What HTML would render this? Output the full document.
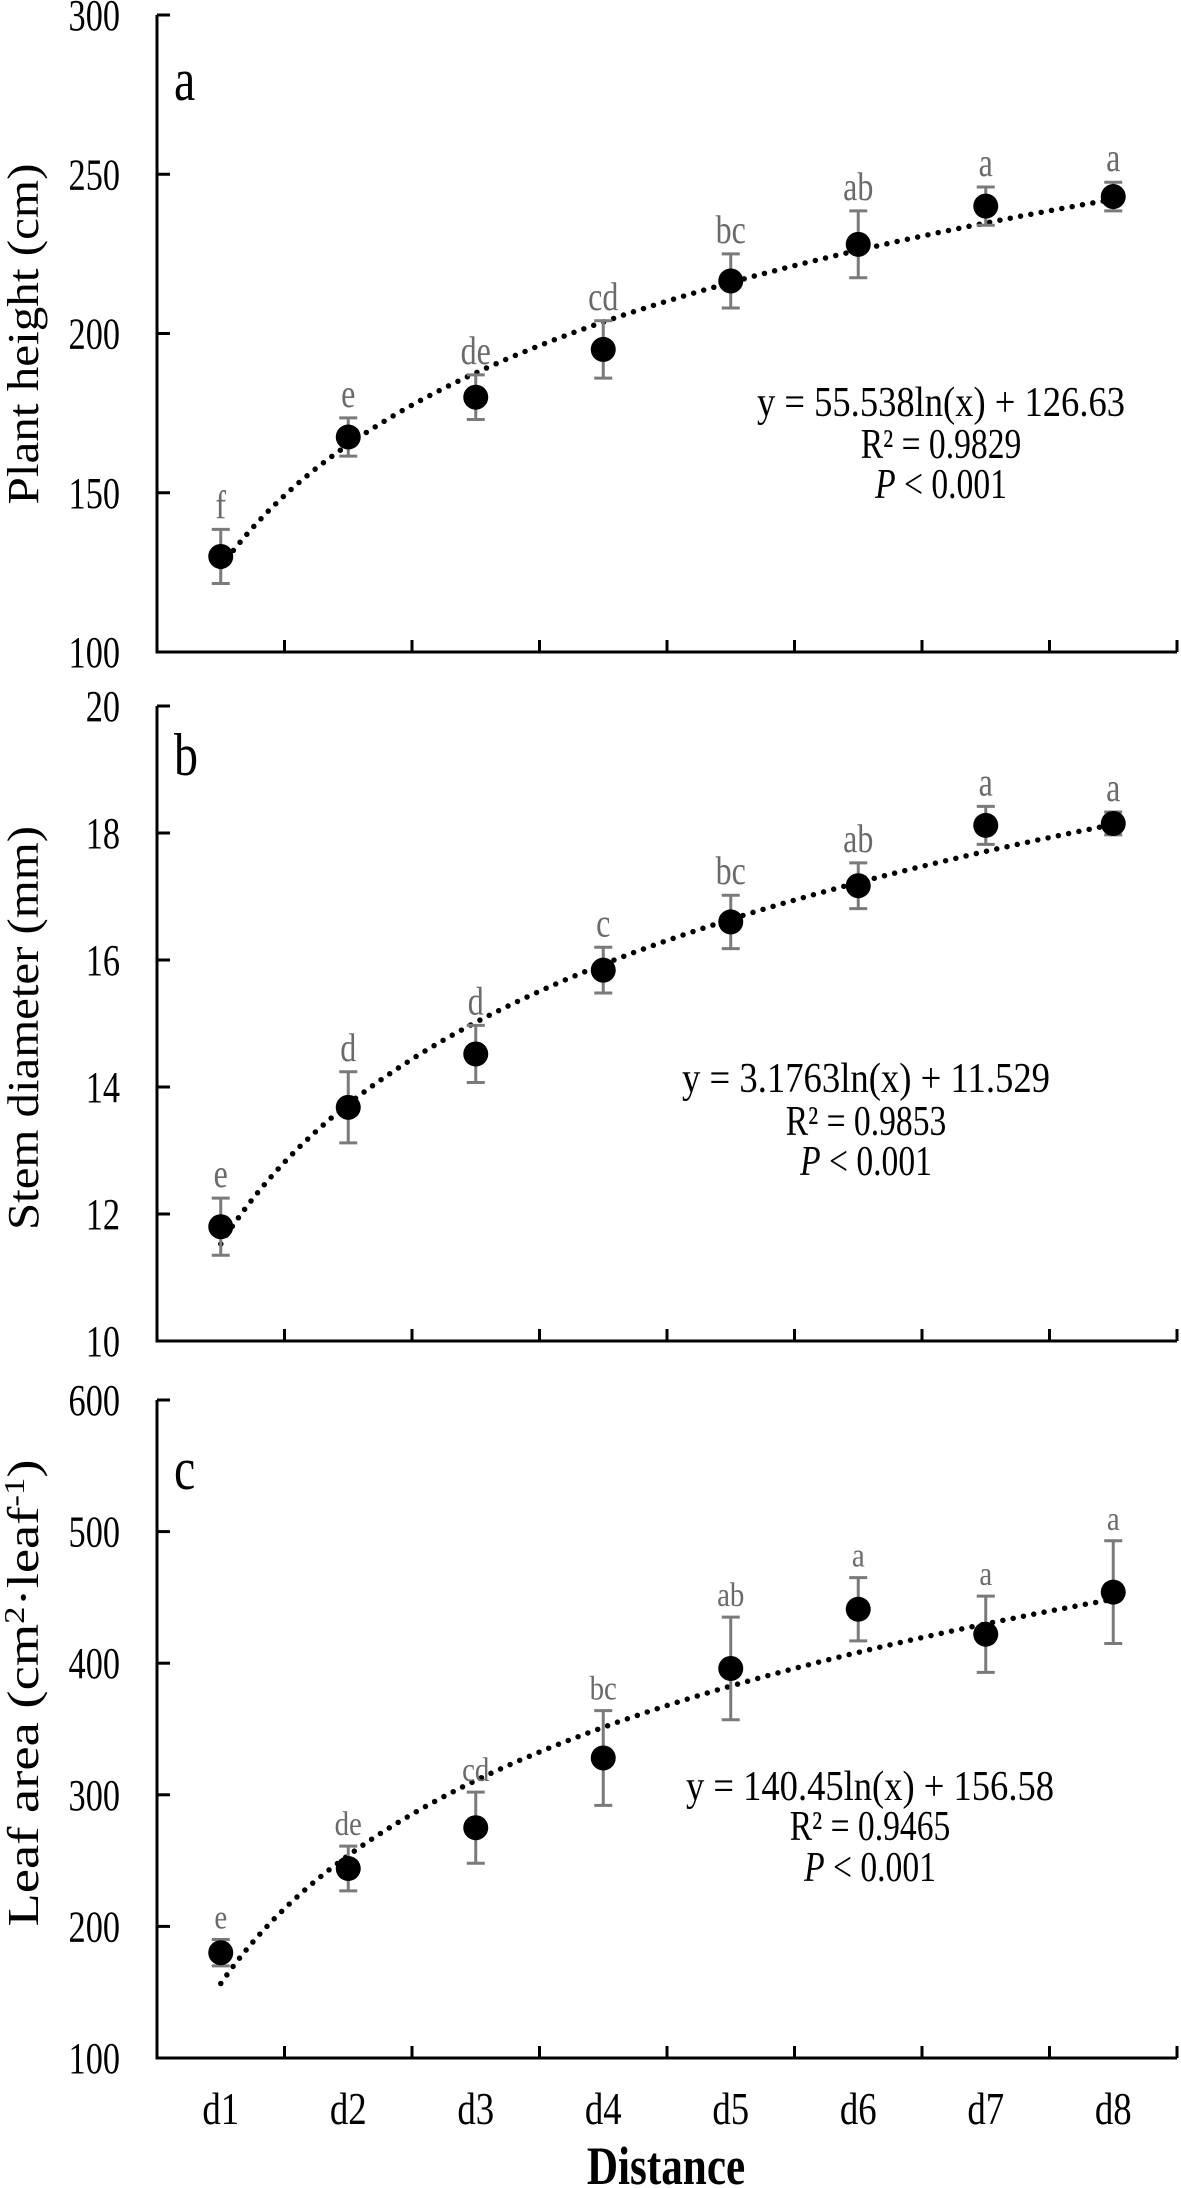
<!DOCTYPE html>
<html><head><meta charset="utf-8"><style>
body{margin:0;background:#fff}
svg{display:block}
text{font-family:"Liberation Serif",serif}
</style></head><body>
<svg id="chart" width="1181" height="2188" viewBox="0 0 1181 2188"></svg>
<script>
const categories=["d1","d2","d3","d4","d5","d6","d7","d8"];
const heightVals=[130,167.5,180,195,216.5,228,240,243];
const heightErr=[8.5,6,7,9,8.5,10.5,6,4.5];
const heightLetters=["f","e","de","cd","bc","ab","a","a"];
const heightTicks=[100,150,200,250,300];
const heightFit=[55.538,126.63];
const stemVals=[11.8,13.68,14.52,15.84,16.6,17.17,18.12,18.15];
const stemErr=[0.45,0.56,0.45,0.36,0.42,0.36,0.3,0.18];
const stemLetters=["e","d","d","c","bc","ab","a","a"];
const stemTicks=[10,12,14,16,18,20];
const stemFit=[3.1763,11.529];
const leafVals=[180,244,275,328,396,441,422,454];
const leafErr=[10,17,27,36,39,24,29,39];
const leafLetters=["e","de","cd","bc","ab","a","a","a"];
const leafTicks=[100,200,300,400,500,600];
const leafFit=[140.45,156.58];

const NS="http://www.w3.org/2000/svg";
const svg=document.getElementById('chart');
function mk(tag,attrs,parent,txt){const e=document.createElementNS(NS,tag);for(const k in attrs)e.setAttribute(k,attrs[k]);if(txt!==undefined)e.textContent=txt;(parent||svg).appendChild(e);return e;}
// condensed text: place at (x,y) with horizontal squeeze
function ctext(x,y,attrs,parent,txt,sx){attrs.x=0;attrs.y=0;attrs.transform=`translate(${x},${y}) scale(${sx||0.8},1)`;return mk('text',attrs,parent,txt);}
const X0=157,X1=1177,band=(X1-X0)/8;
function xs(i){return X0+band*(i+0.5);}

function panel(o){
  const g=mk('g',{});
  
  
  const ys=v=>o.yB-(v-o.min)/(o.max-o.min)*(o.yB-o.yT);
  const ya=mk('line',{x1:X0,y1:o.yT,x2:X0,y2:o.yB+1.5,stroke:'#000','stroke-width':3},g);
  
  const xa=mk('line',{x1:X0-1.5,y1:o.yB,x2:X1,y2:o.yB,stroke:'#000','stroke-width':3},g);
  
  o.ticks.forEach(t=>{
    const y=ys(t);
    mk('line',{x1:X0,y1:y,x2:X0+13,y2:y,stroke:'#000','stroke-width':3},g);
    const tl=ctext(120,y+15,{'text-anchor':'end','font-size':44},g,String(t),0.78);
    
  });
  for(let k=1;k<=8;k++){const x=X0+band*k;mk('line',{x1:x,y1:o.yB,x2:x,y2:o.yB-12,stroke:'#000','stroke-width':3},g);}
  const tt=mk('text',{x:0,y:0,transform:`translate(38,${o.titleY}) rotate(-90)`,'text-anchor':'middle','font-size':44,textLength:o.titleLen,lengthAdjust:'spacingAndGlyphs'},g);
  
  tt.innerHTML=o.title;
  const pl=ctext(174,o.letterY,{'font-size':60},g,o.letter,0.8);
  
  let pts=[];
  for(let x=1;x<=8.0001;x+=0.02){pts.push([X0+band*(x-0.5),ys(o.fit[0]*Math.log(x)+o.fit[1])]);}
  const tr=mk('path',{d:'M'+pts.map(p=>p[0].toFixed(1)+','+p[1].toFixed(1)).join('L'),fill:'none',stroke:'#000','stroke-width':5.5,'stroke-linecap':'round','stroke-dasharray':'0 10.5'},g);
  
  o.vals.forEach((v,i)=>{
    const x=xs(i),yt=ys(v+o.err[i]),yb=ys(v-o.err[i]);
    const eb=mk('path',{d:`M${x},${yt}V${yb}M${x-9},${yt}H${x+9}M${x-9},${yb}H${x+9}`,stroke:'#7a7a7a','stroke-width':3,fill:'none'},g);
    
    const c=mk('circle',{cx:x,cy:ys(v),r:12.5,fill:'#000'},g);
    
    const lt=ctext(x,yt-11,{'text-anchor':'middle','font-size':o.sans?34:40,fill:'#6a6a6a','font-family':o.sans?'"Liberation Sans",sans-serif':'"Liberation Serif",serif'},g,o.letters[i],o.sans?0.85:0.8);
    
  });
  const eq=o.eq;
  const e1=mk('text',{x:eq.x,y:eq.y[0]+14,'text-anchor':'middle','font-size':42,textLength:eq.w,lengthAdjust:'spacingAndGlyphs'},g,`y = ${o.fit[0]}ln(x) + ${o.fit[1]}`);
  
  const e2=ctext(eq.x,eq.y[1]+14,{'text-anchor':'middle','font-size':42},g,`R² = ${o.r2}`,0.8);
  
  const e3=ctext(eq.x,eq.y[2]+14,{'text-anchor':'middle','font-size':42},g,undefined,0.8);
  
  e3.innerHTML='<tspan font-style="italic">P</tspan> &lt; 0.001';
}
panel({name:'plant-height-panel',yT:15,yB:652,min:100,max:300,ticks:heightTicks,vals:heightVals,err:heightErr,letters:heightLetters,fit:heightFit,r2:'0.9829',
  title:'Plant height (cm)',titleY:334,titleLen:341,letter:'a',letterY:100,eq:{x:941,y:[402,444,484],w:368}});
panel({name:'stem-diameter-panel',yT:706,yB:1341,min:10,max:20,ticks:stemTicks,vals:stemVals,err:stemErr,letters:stemLetters,fit:stemFit,r2:'0.9853',
  title:'Stem diameter (mm)',titleY:1028,titleLen:404,letter:'b',letterY:775,eq:{x:866,y:[1078,1121,1161],w:368}});
panel({name:'leaf-area-panel',yT:1400,yB:2058,min:100,max:600,ticks:leafTicks,vals:leafVals,err:leafErr,letters:leafLetters,fit:leafFit,r2:'0.9465',sans:true,
  title:'Leaf area (cm<tspan font-size="28" dy="-14">2</tspan><tspan dy="14">·leaf</tspan><tspan font-size="28" dy="-14">-1</tspan><tspan dy="14">)</tspan>',titleY:1693,titleLen:467,letter:'c',letterY:1489,eq:{x:870,y:[1786,1826,1867],w:368}});
categories.forEach((c,i)=>{
  const t=ctext(xs(i),2124,{'text-anchor':'middle','font-size':46},svg,c,0.8);
  
  
});
const xt=ctext(666,2184,{'text-anchor':'middle','font-size':54,'font-weight':'bold'},svg,'Distance',0.8);


</script>
</body></html>
